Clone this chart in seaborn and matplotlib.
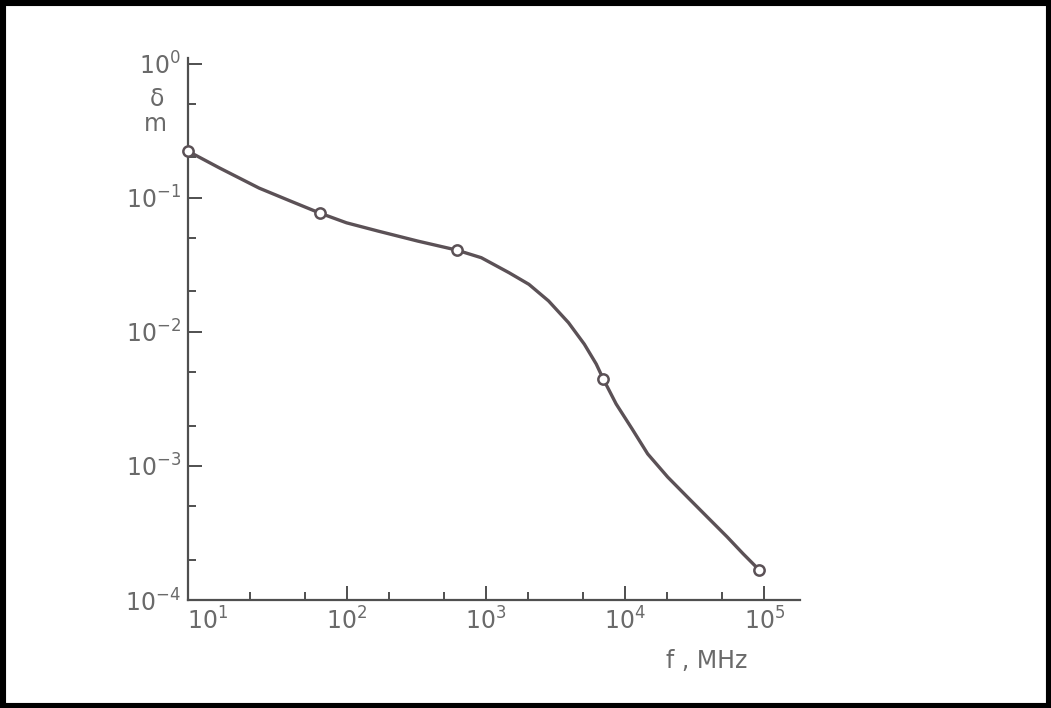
import matplotlib
matplotlib.use("Agg")
import matplotlib.pyplot as plt
import matplotlib.ticker as mticker
from matplotlib.patches import Rectangle
import seaborn as sns

# measured points (open circles)
point_f = [7.2, 64, 614, 6930, 92200]
point_d = [0.222, 0.0767, 0.0407, 0.00448, 0.000167]

# the drawn curve
curve_f = [7.2, 12.1, 23.3, 39.4, 64, 99.1, 167, 322, 614, 923, 1460, 2030,
           2810, 3910, 5080, 6190, 6930, 8600, 11200, 14500, 20200, 28000,
           38900, 54000, 70200, 92200]
curve_d = [0.222, 0.1667, 0.118, 0.0942, 0.0767, 0.065, 0.0564, 0.0475,
           0.0407, 0.0357, 0.0276, 0.0226, 0.0170, 0.0117, 0.00809, 0.00575,
           0.00448, 0.0029, 0.00189, 0.00123, 0.000826, 0.000586, 0.000416,
           0.000296, 0.000222, 0.000167]

x_ticks = [10, 100, 1000, 10000, 100000]
x_labels = ["$10^{1}$", "$10^{2}$", "$10^{3}$", "$10^{4}$", "$10^{5}$"]
y_ticks = [1e-4, 1e-3, 1e-2, 1e-1, 1]
y_labels = ["$10^{-4}$", "$10^{-3}$", "$10^{-2}$", "$10^{-1}$", "$10^{0}$"]

sns.set_style("white")
plt.rcParams["font.family"] = ["DejaVu Sans"]
plt.rcParams["mathtext.fontset"] = "dejavusans"

line_col = "#5b5156"
axis_col = "#4f4f4f"
text_col = "#6a6a6a"

fig = plt.figure(figsize=(10.51, 7.08), dpi=100)
ax = fig.add_axes([0.179, 0.1525, 0.582, 0.7655])
ax.set_xscale("log")
ax.set_yscale("log")

sns.lineplot(x=curve_f, y=curve_d, ax=ax, color=line_col, linewidth=2.4, sort=False)
sns.scatterplot(x=point_f, y=point_d, ax=ax, marker="o", s=55, facecolor="white",
                edgecolor=line_col, linewidth=1.8, zorder=5, clip_on=False)

ax.set_xlim(7.2, 1.8e5)
ax.set_ylim(1e-4, 1.1)

ax.set_xticks(x_ticks)
ax.set_xticklabels(x_labels)
ax.set_yticks(y_ticks)
ax.set_yticklabels(y_labels)
ax.xaxis.set_minor_locator(mticker.LogLocator(base=10, subs=(2, 5)))
ax.yaxis.set_minor_locator(mticker.LogLocator(base=10, subs=(2, 5)))
ax.xaxis.set_minor_formatter(mticker.NullFormatter())
ax.yaxis.set_minor_formatter(mticker.NullFormatter())

ax.tick_params(which="both", bottom=True, left=True, top=False, right=False)
ax.tick_params(which="major", direction="in", length=10, width=1.4, color=axis_col,
               labelsize=17, labelcolor=text_col, pad=5)
ax.tick_params(which="minor", direction="in", length=6, width=1.4, color=axis_col)
ax.xaxis.get_major_ticks()[0].tick1line.set_visible(False)

sns.despine(ax=ax)
for side in ["left", "bottom"]:
    ax.spines[side].set_color(axis_col)
    ax.spines[side].set_linewidth(1.6)

fig.text(0.149, 0.86, "δ", fontsize=17, color=text_col, ha="center", va="center")
fig.text(0.148, 0.825, "m", fontsize=17, color=text_col, ha="center", va="center")
fig.text(0.672, 0.066, "f , MHz", fontsize=17, color=text_col, ha="center", va="center")

fig.patches.append(Rectangle((0, 0), 1, 1, transform=fig.transFigure, fill=False,
                             edgecolor="black", linewidth=8, zorder=10))

fig.savefig("out.png", dpi=100)
plt.close(fig)
